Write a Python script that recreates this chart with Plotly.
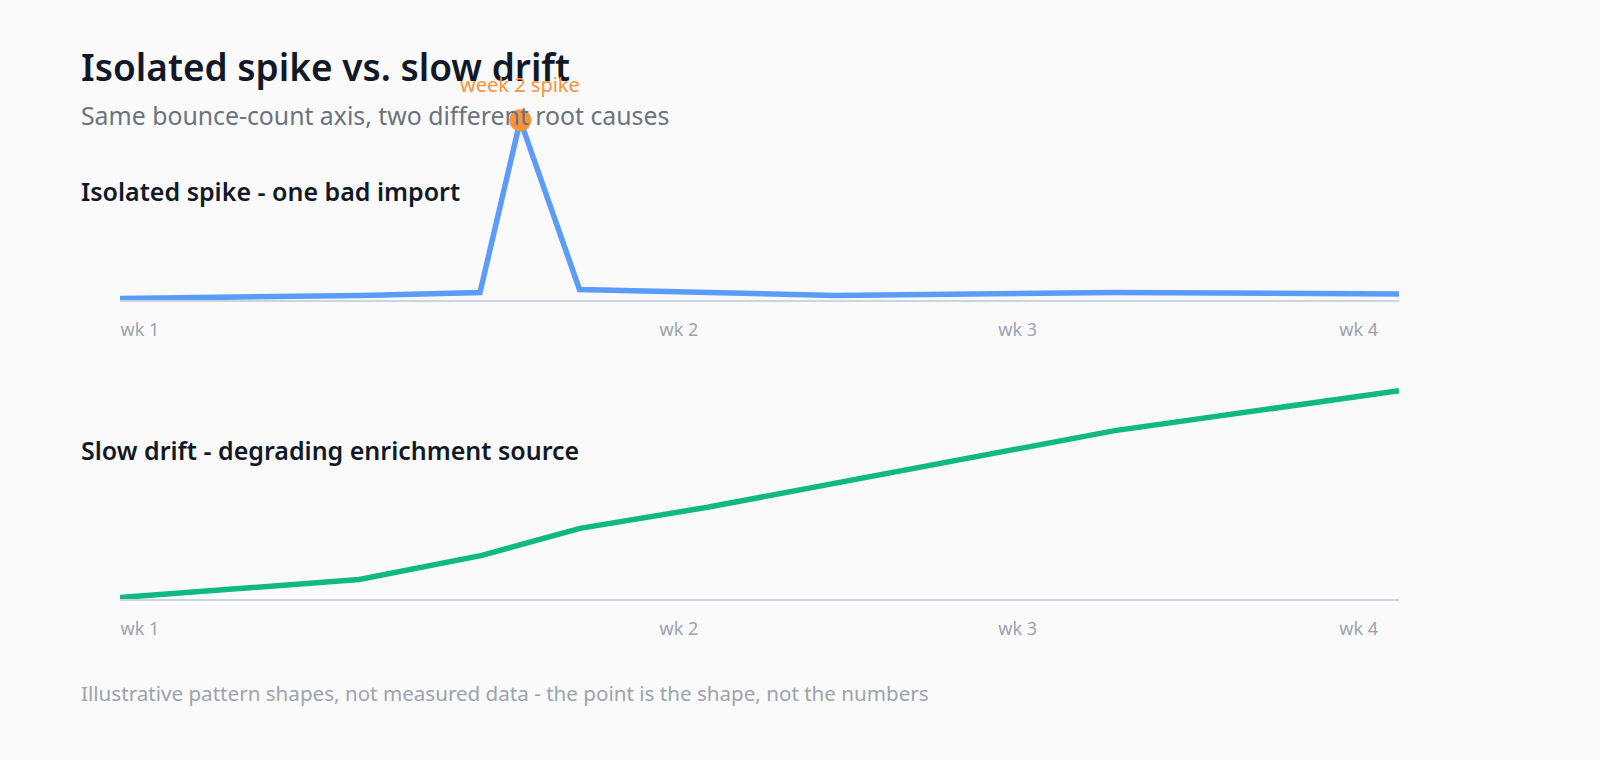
import plotly.graph_objects as go

# ---- data ----
spike_days = [0, 5.1, 7.6, 8.45, 9.7, 15.1, 21.0, 27]
spike_vals = [1, 3, 5, 119.5, 7, 3, 5, 4]
drift_days = [0, 5.05, 7.64, 9.71, 12.4, 15.1, 18.1, 21.0, 27]
drift_vals = [1, 13, 29, 47, 61, 77, 95, 112, 138.5]
tick_days = [0.42, 11.8, 18.95, 26.15]
tick_labels = ["wk 1", "wk 2", "wk 3", "wk 4"]
spike_label = "week 2 spike"
spike_index = 3

title = "Isolated spike vs. slow drift"
subtitle = "Same bounce-count axis, two different root causes"
panel1_title = "Isolated spike - one bad import"
panel2_title = "Slow drift - degrading enrichment source"
footer = "Illustrative pattern shapes, not measured data - the point is the shape, not the numbers"

W, H = 1600, 760
FONT = "Noto Sans, Open Sans, sans-serif"
BLUE = "#5b9cf8"
GREEN = "#10b981"
ORANGE = "#fb923c"
AXIS = "#cbd5e1"
TICK = "#9ca3af"


def py(px):
    return 1 - px / H


def px_x(px):
    return px / W


fig = go.Figure()
fig.add_trace(go.Scatter(x=spike_days, y=spike_vals, mode="lines",
                         line=dict(color=BLUE, width=5.5), xaxis="x", yaxis="y",
                         hoverinfo="skip", showlegend=False))
fig.add_trace(go.Scatter(x=[spike_days[spike_index]], y=[spike_vals[spike_index]], mode="markers",
                         marker=dict(color=ORANGE, size=22), xaxis="x", yaxis="y",
                         cliponaxis=False, hoverinfo="skip", showlegend=False))
fig.add_trace(go.Scatter(x=drift_days, y=drift_vals, mode="lines",
                         line=dict(color=GREEN, width=5.5), xaxis="x2", yaxis="y2",
                         hoverinfo="skip", showlegend=False))

xdom = [120 / W, 1399 / W]
xcommon = dict(range=[0, 27], domain=xdom, showgrid=False, zeroline=False,
               showline=True, linecolor=AXIS, linewidth=2,
               tickmode="array", tickvals=tick_days, ticktext=tick_labels,
               ticks="", ticklabelstandoff=12,
               tickfont=dict(family=FONT, size=18, color=TICK), fixedrange=True)
ycommon = dict(range=[0, 143], showgrid=False, zeroline=False, showline=False,
               showticklabels=False, ticks="", fixedrange=True)

fig.update_layout(
    width=W, height=H,
    margin=dict(l=0, r=0, t=0, b=0),
    paper_bgcolor="#fafafa", plot_bgcolor="#fafafa",
    xaxis=dict(**xcommon, anchor="y"),
    yaxis=dict(**ycommon, domain=[py(300), py(85)], anchor="x"),
    xaxis2=dict(**xcommon, anchor="y2"),
    yaxis2=dict(**ycommon, domain=[py(599), py(384)], anchor="x2"),
    font=dict(family=FONT),
)

anns = [
    (title, 79, 66, 37, "#111827", 600),
    (subtitle, 79, 115, 24.8, "#6b7280", 400),
    (panel1_title, 79, 191, 25, "#111827", 600),
    (panel2_title, 79, 450, 25, "#111827", 600),
    (footer, 79, 693, 20.6, TICK, 400),
]
for text, x, y, size, color, weight in anns:
    fig.add_annotation(text=text, xref="paper", yref="paper", x=px_x(x), y=py(y),
                       xanchor="left", yanchor="middle", showarrow=False,
                       font=dict(family=FONT, size=size, color=color, weight=weight))

fig.add_annotation(text=spike_label, x=spike_days[spike_index], y=spike_vals[spike_index],
                   xref="x", yref="y", showarrow=False, yshift=36,
                   font=dict(family=FONT, size=20, color=ORANGE))

fig.write_html("out.html")
